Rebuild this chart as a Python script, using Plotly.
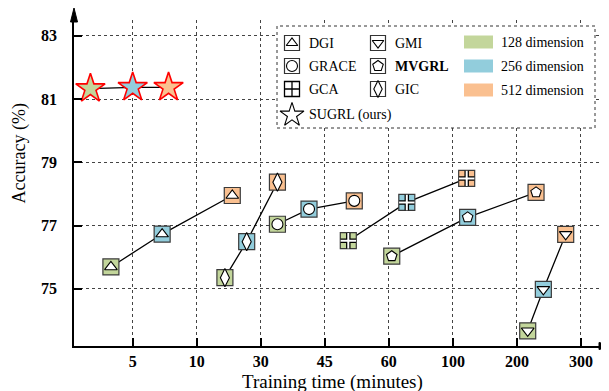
import numpy as np
import plotly.graph_objects as go

# ---------------- data ----------------
tick_minutes = [5, 10, 30, 45, 60, 100, 200, 300]
tick_labels = ["5", "10", "30", "45", "60", "100", "200", "300"]
dims = ["128 dimension", "256 dimension", "512 dimension"]
dim_colors = ["#C3D69B", "#92CDDC", "#FAC090"]

dgi_time = [3.3, 7.3, 21.1]
dgi_acc = [75.69, 76.73, 77.95]
grace_time = [33.9, 41.3, 51.9]
grace_acc = [77.04, 77.52, 77.78]
gca_time = [50.5, 71.2, 121.5]
gca_acc = [76.52, 77.73, 78.49]
gmi_time = [216.8, 241.2, 276.1]
gmi_acc = [73.67, 74.98, 76.72]
mvgrl_time = [61.8, 123.0, 229.8]
mvgrl_acc = [76.03, 77.26, 78.05]
gic_time = [18.8, 25.6, 33.9]
gic_acc = [75.35, 76.49, 78.37]
sugrl_time = [1.7, 5.0, 7.8]
sugrl_acc = [81.33, 81.37, 81.37]

# ---------------- scale: non-uniform time axis ----------------
scale_m = [0] + tick_minutes
scale_i = list(range(len(scale_m)))


def tpos(m):
    return np.interp(m, scale_m, scale_i)


# page pixel layout (the page body has an 8px margin)
OFF = 8
PX0, PX1, PY0, PY1 = 74, 602, 20, 346
W, H = 601, 383
L, T = PX0 - OFF, PY0 - OFF
R, B = W - (PX1 - OFF), H - (PY1 - OFF)
X0, X1 = 0.0836, 8.328
Y0, Y1 = 73.19, 83.50


def X(px):
    return X0 + (px - PX0) / (PX1 - PX0) * (X1 - X0)


def Y(py):
    return Y0 + (PY1 - py) / (PY1 - PY0) * (Y1 - Y0)


def PXp(px):
    return (px - PX0) / (PX1 - PX0)


def PYp(py):
    return (PY1 - py) / (PY1 - PY0)


SERIF = "Liberation Serif"
fig = go.Figure()

methods = [
    ("DGI", dgi_time, dgi_acc, "triangle-up", 11),
    ("GRACE", grace_time, grace_acc, "circle", 11),
    ("GCA", gca_time, gca_acc, "cross-thin", 11),
    ("GMI", gmi_time, gmi_acc, "triangle-down", 11),
    ("MVGRL", mvgrl_time, mvgrl_acc, "pentagon", 11),
    ("GIC", gic_time, gic_acc, "diamond-tall", 13),
]

# connecting lines
for name, t, a, sym, sz in methods:
    fig.add_trace(go.Scatter(x=tpos(t), y=a, mode="lines",
                             line=dict(color="black", width=1.3),
                             hoverinfo="skip", showlegend=False))
fig.add_trace(go.Scatter(x=tpos(sugrl_time), y=sugrl_acc, mode="lines",
                         line=dict(color="black", width=1.3),
                         hoverinfo="skip", showlegend=False))

# markers
for name, t, a, sym, sz in methods:
    fig.add_trace(go.Scatter(x=tpos(t), y=a, mode="markers", name=name,
                             marker=dict(symbol="square", size=16, color=dim_colors,
                                         line=dict(color="#3a3a3a", width=1.2)),
                             showlegend=False))
    if sym == "cross-thin":
        fig.add_trace(go.Scatter(x=tpos(t), y=a, mode="markers",
                                 marker=dict(symbol="cross-thin", size=11, color="black",
                                             line=dict(color="black", width=4.5)),
                                 hoverinfo="skip", showlegend=False))
        fig.add_trace(go.Scatter(x=tpos(t), y=a, mode="markers",
                                 marker=dict(symbol="cross-thin", size=11, color="white",
                                             line=dict(color="white", width=2)),
                                 hoverinfo="skip", showlegend=False))
    else:
        fig.add_trace(go.Scatter(x=tpos(t), y=a, mode="markers",
                                 marker=dict(symbol=sym, size=sz, color="white",
                                             line=dict(color="black", width=1.1)),
                                 hoverinfo="skip", showlegend=False))

fig.add_trace(go.Scatter(x=tpos(sugrl_time), y=sugrl_acc, mode="markers", name="SUGRL (ours)",
                         marker=dict(symbol="star", size=22, color=dim_colors,
                                     line=dict(color="#FF0000", width=1.6)),
                         showlegend=False))

# ---------------- legend (drawn manually) ----------------
shapes = []
shapes.append(dict(type="rect", xref="x", yref="y", layer="between",
                   x0=X(277), x1=X(595), y0=Y(128), y1=Y(26),
                   fillcolor="white", line=dict(color="#333", width=1, dash="dot")))

leg_rows = [43, 66, 89, 115]
c1x, c2x = 292, 378
leg_items = [
    ("DGI", c1x, leg_rows[0], "triangle-up", 10, False),
    ("GRACE", c1x, leg_rows[1], "circle", 11, False),
    ("GCA", c1x, leg_rows[2], None, 0, False),
    ("GMI", c2x, leg_rows[0], "triangle-down", 10, False),
    ("MVGRL", c2x, leg_rows[1], "pentagon", 11, True),
    ("GIC", c2x, leg_rows[2], "diamond-tall", 12, False),
]
annotations = []
for name, cx, cy, sym, sz, bold in leg_items:
    if sym is None:
        fig.add_trace(go.Scatter(x=[X(cx)], y=[Y(cy)], mode="markers",
                                 marker=dict(symbol="square-cross-open", size=15, color="black",
                                             line=dict(color="black", width=1.3)),
                                 hoverinfo="skip", showlegend=False))
    else:
        fig.add_trace(go.Scatter(x=[X(cx)], y=[Y(cy)], mode="markers",
                                 marker=dict(symbol="square", size=15, color="white",
                                             line=dict(color="#333", width=1.2)),
                                 hoverinfo="skip", showlegend=False))
        fig.add_trace(go.Scatter(x=[X(cx)], y=[Y(cy)], mode="markers",
                                 marker=dict(symbol=sym, size=sz, color="white",
                                             line=dict(color="black", width=1.1)),
                                 hoverinfo="skip", showlegend=False))
    annotations.append(dict(x=X(cx + 15), y=Y(cy), xref="x", yref="y", text=name,
                            showarrow=False, xanchor="left", yanchor="middle",
                            font=dict(family=SERIF, size=14, color="black",
                                      weight="bold" if bold else "normal")))
fig.add_trace(go.Scatter(x=[X(c1x)], y=[Y(leg_rows[3])], mode="markers",
                         marker=dict(symbol="star-open", size=18, color="black",
                                     line=dict(color="black", width=1.1)),
                         hoverinfo="skip", showlegend=False))
annotations.append(dict(x=X(c1x + 15), y=Y(leg_rows[3]), xref="x", yref="y",
                        text="SUGRL (ours)", showarrow=False, xanchor="left",
                        yanchor="middle", font=dict(family=SERIF, size=14, color="black")))

for i, (lab, col) in enumerate(zip(dims, dim_colors)):
    cy = [42, 66, 90][i]
    shapes.append(dict(type="rect", xref="x", yref="y", layer="between",
                       x0=X(464), x1=X(493), y0=Y(cy + 6.5), y1=Y(cy - 6.5),
                       fillcolor=col, line=dict(width=0)))
    annotations.append(dict(x=X(499), y=Y(cy), xref="x", yref="y", text=lab,
                            showarrow=False, xanchor="left", yanchor="middle",
                            font=dict(family=SERIF, size=14, color="black")))

# axis arrows
shapes.append(dict(type="path", xref="paper", yref="paper", layer="above",
                   path=f"M {PXp(70.5)} {PYp(22)} L {PXp(74)} {PYp(8)} L {PXp(77.5)} {PYp(22)} Z",
                   fillcolor="black", line=dict(color="black", width=1)))
shapes.append(dict(type="path", xref="paper", yref="paper", layer="above",
                   path=f"M {PXp(599)} {PYp(342.5)} L {PXp(612)} {PYp(346)} L {PXp(599)} {PYp(349.5)} Z",
                   fillcolor="black", line=dict(color="black", width=1)))

# axis titles
annotations.append(dict(x=PXp(18.5), y=PYp(154), xref="paper", yref="paper",
                        text="Accuracy (%)", textangle=-90, showarrow=False,
                        xanchor="center", yanchor="middle",
                        font=dict(family=SERIF, size=18, color="black")))
annotations.append(dict(x=PXp(332), y=PYp(381.5), xref="paper", yref="paper",
                        text="Training time (minutes)", showarrow=False,
                        xanchor="center", yanchor="middle",
                        font=dict(family=SERIF, size=19, color="black")))

fig.update_layout(
    width=W, height=H,
    margin=dict(l=L, r=R, t=T, b=B),
    paper_bgcolor="white", plot_bgcolor="white",
    shapes=shapes, annotations=annotations,
    showlegend=False,
    xaxis=dict(range=[X0, X1], tickvals=list(range(1, 9)), ticktext=tick_labels,
               ticks="inside", ticklen=8, tickwidth=1.5, tickcolor="black",
               showline=True, linecolor="black", linewidth=1.5,
               showgrid=True, gridcolor="#444", gridwidth=1, griddash="dot",
               zeroline=False, ticklabelstandoff=0,
               tickfont=dict(family=SERIF, size=16, color="black", weight="bold")),
    yaxis=dict(range=[Y0, Y1], tickvals=[75, 77, 79, 81, 83],
               ticks="inside", ticklen=8, tickwidth=1.5, tickcolor="black",
               showline=True, linecolor="black", linewidth=1.5,
               showgrid=True, gridcolor="#444", gridwidth=1, griddash="dot",
               zeroline=False, ticklabelstandoff=12,
               tickfont=dict(family=SERIF, size=16, color="black", weight="bold")),
)

fig.write_html("out.html")
